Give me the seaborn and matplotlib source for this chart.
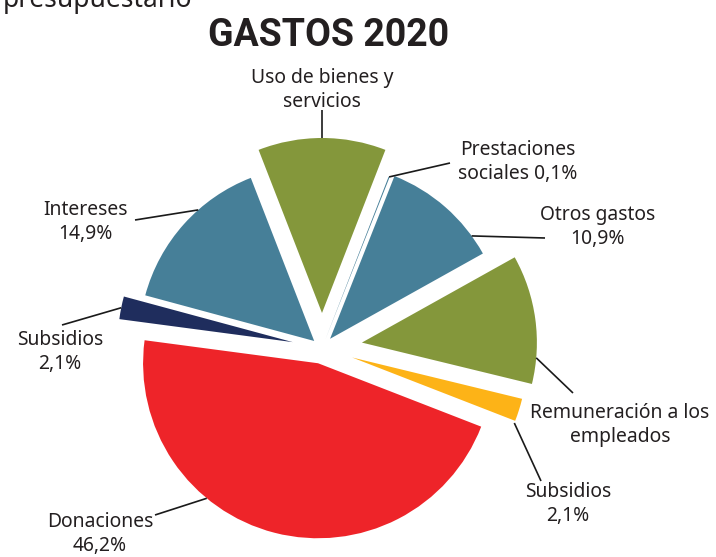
import numpy as np
import matplotlib
matplotlib.use("Agg")
import matplotlib.pyplot as plt
import seaborn as sns

# Gastos 2020 por clasificación económica (porcentajes)
categorias = [
    "Uso de bienes y servicios",
    "Prestaciones sociales",
    "Otros gastos",
    "Remuneración a los empleados",
    "Subsidios (corriente)",
    "Donaciones",
    "Subsidios (capital)",
    "Intereses",
]
porcentajes = [11.8, 0.1, 10.9, 11.9, 2.1, 46.2, 2.1, 14.9]
etiquetas = [
    "Uso de bienes y\nservicios",
    "Prestaciones\nsociales 0,1%",
    "Otros gastos\n10,9%",
    "Remuneración a los\nempleados",
    "Subsidios\n2,1%",
    "Donaciones\n46,2%",
    "Subsidios\n2,1%",
    "Intereses\n14,9%",
]
colores_hex = ["#84973B", "#467F98", "#467F98", "#84973B",
               "#FDB317", "#EE2429", "#1F2D5D", "#467F98"]
# how far each wedge is pulled out, as a fraction of the radius
separacion = [0.20, 0.05, 0.07, 0.23, 0.18, 0.09, 0.17, 0.06]

sns.set_theme(style="white")
plt.rcParams["font.family"] = ["Noto Sans", "DejaVu Sans"]
colores = sns.color_palette(colores_hex)

W, H = 716, 557
fig = plt.figure(figsize=(W / 100, H / 100), dpi=100)
ax = fig.add_axes([0, 0, 1, 1])

cx, cy, radio = 322, H - 348, 175
inicio = 90 + porcentajes[0] / 100 * 360 / 2

wedges, _ = ax.pie(
    porcentajes,
    colors=colores,
    explode=[s * radio for s in separacion],
    startangle=inicio,
    counterclock=False,
    center=(cx, cy),
    radius=radio,
    frame=True,
    wedgeprops=dict(linewidth=0),
)
ax.set_xlim(0, W)
ax.set_ylim(0, H)
ax.set_aspect("equal")
ax.axis("off")

# Leader lines: angle on the wedge rim, end point of the line, label centre
guias = [
    (90.0, (322, 110), (322, 90)),
    (None, (450, 163), (518, 162)),
    (36.0, (545, 238), (598, 227)),
    (-5.0, (573, 393), (620, 425)),
    (-22.0, (541, 481), (568, 504)),
    (-129.5, (155, 515), (100, 534)),
    (None, (62, 325), (60, 352)),
    (131.5, (135, 220), (85, 222)),
]

for w, etiqueta, (ang, fin, centro) in zip(wedges, etiquetas, guias):
    if ang is None:
        ang = (w.theta1 + w.theta2) / 2
    a = np.deg2rad(ang)
    x0 = w.center[0] + w.r * np.cos(a)
    y0 = w.center[1] + w.r * np.sin(a)
    ax.plot([x0, fin[0]], [y0, H - fin[1]], color="#1a1a1a", lw=1.2,
            solid_capstyle="butt")
    ax.text(centro[0], H - centro[1], etiqueta, ha="center", va="center",
            fontsize=13.9, color="#231F20", linespacing=1.25)

ax.text(329, H - 46, "GASTOS 2020", ha="center", va="baseline",
        fontsize=27, fontweight="bold", color="#231F20",
        family=["Roboto", "Open Sans", "DejaVu Sans"])
ax.text(3, H - 7, "presupuestario", ha="left", va="baseline",
        fontsize=19, color="#231F20")

fig.savefig("out.png", dpi=100)
